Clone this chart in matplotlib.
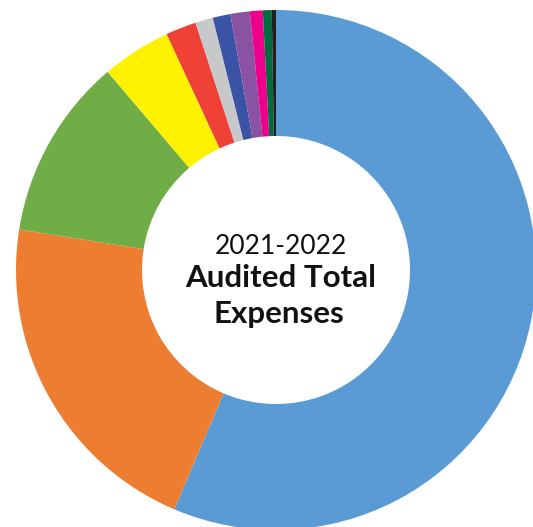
import matplotlib
matplotlib.use("Agg")
import matplotlib.pyplot as plt

categories = ["Category 1", "Category 2", "Category 3", "Category 4", "Category 5",
              "Category 6", "Category 7", "Category 8", "Category 9", "Category 10", "Category 11"]
values = [56.4, 21.1, 11.3, 4.3, 1.9, 1.1, 1.1, 1.2, 0.8, 0.55, 0.26]
colors = ["#5B9BD5", "#ED7D31", "#70AD47", "#FFF200", "#EF4136", "#C7C8CA",
          "#3A53A4", "#8A52A2", "#EC008C", "#006B3F", "#231F20"]
title_year = "2021-2022"
title_line1 = "Audited Total"
title_line2 = "Expenses"

W, H = 533, 527
fig = plt.figure(figsize=(W / 100, H / 100), dpi=100)
ax = fig.add_axes([0, 0, 1, 1])

cx, cy, R, r_in = 276, H - 270, 260, 134
ax.pie(values, colors=colors, startangle=90, counterclock=False,
       center=(cx, cy), radius=R, frame=True,
       wedgeprops=dict(width=R - r_in, linewidth=0))
ax.set_xlim(0, W)
ax.set_ylim(0, H)
ax.set_aspect("equal")
ax.axis("off")

ax.text(281, H - 246, title_year, ha="center", va="center",
        fontsize=19, family="Lato", color="#111111")
ax.text(281, H - 278, title_line1, ha="center", va="center",
        fontsize=22.5, family="Lato", fontweight="bold", color="#111111")
ax.text(279, H - 314, title_line2, ha="center", va="center",
        fontsize=22.5, family="Lato", fontweight="bold", color="#111111")

fig.savefig("out.png", dpi=100)
